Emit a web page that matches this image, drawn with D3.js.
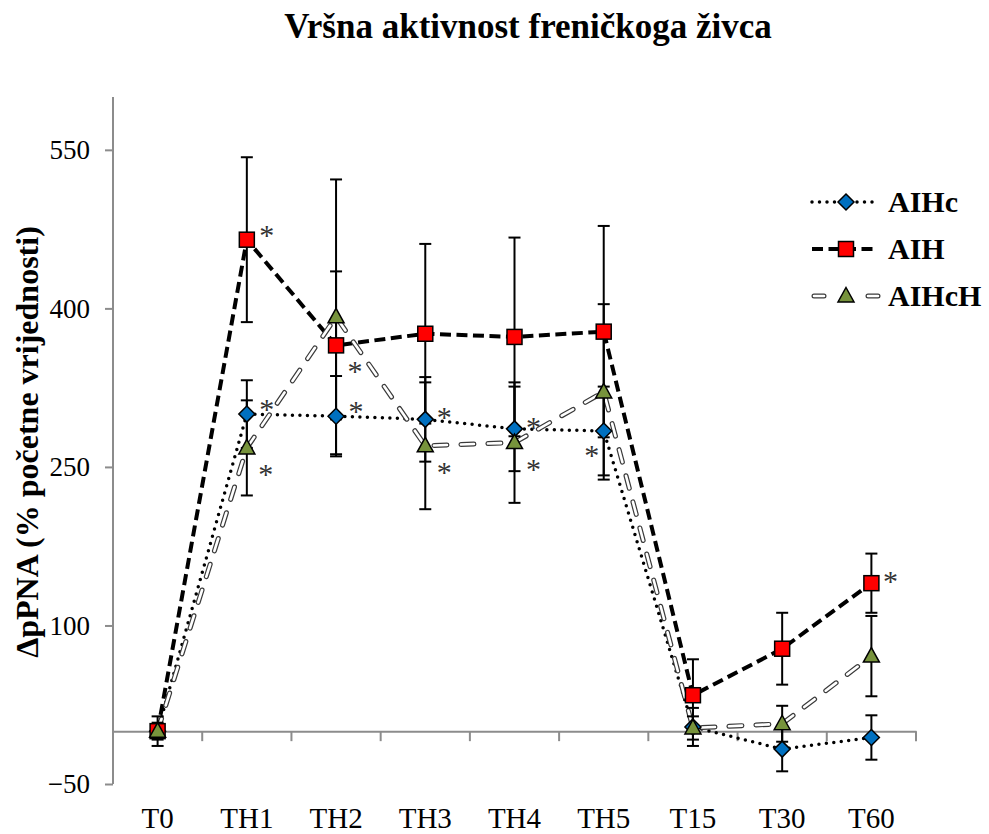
<!DOCTYPE html>
<html>
<head>
<meta charset="utf-8">
<script src="https://cdn.jsdelivr.net/npm/d3@7/dist/d3.min.js"></script>
<style>
  html, body { margin: 0; padding: 0; background: #fff; }
  svg { display: block; }
  svg text { font-family: "Liberation Serif", "Times New Roman", Times, "DejaVu Serif", serif; }
</style>
</head>
<body>
<script>
// ---------- data ----------
const categories = ["T0", "TH1", "TH2", "TH3", "TH4", "TH5", "T15", "T30", "T60"];
const yTicks = [-50, 100, 250, 400, 550];

const aihcValues  = [0, 300, 298, 295, 286, 284, 4, -17, -6];
const aihcErrors  = [14, 32, 38, 40, 40, 42, 18, 21, 21];

const aihValues   = [0, 465, 365, 376, 373, 378, 34, 78, 140];
const aihErrors   = [4, 78, 70, 85, 94, 100, 34, 34, 28];

const aihchValues = [0, 268, 392, 270, 273, 321, 3, 7, 71];
const aihchErrors = [8, 45, 130, 60, 57, 83, 11, 17, 38];

const seriesNames = ["AIHc", "AIH", "AIHcH"];

// significance marks: series, category, placement
const stars = [
  { s: "AIH",   c: "TH1", at: "upRight" },
  { s: "AIHc",  c: "TH1", at: "upRight" },
  { s: "AIHcH", c: "TH1", at: "downRight" },
  { s: "AIH",   c: "TH2", at: "downRight" },
  { s: "AIHc",  c: "TH2", at: "upRight" },
  { s: "AIHc",  c: "TH3", at: "right" },
  { s: "AIHcH", c: "TH3", at: "downRight" },
  { s: "AIHc",  c: "TH4", at: "right" },
  { s: "AIHcH", c: "TH4", at: "downRight" },
  { s: "AIHc",  c: "TH5", at: "downLeft" },
  { s: "AIH",   c: "T60", at: "right" }
];

// ---------- setup ----------
const W = 989, H = 834;
const FONT = "Liberation Serif, Times New Roman, Times, DejaVu Serif, serif";
const svg = d3.select("body").append("svg").attr("width", W).attr("height", H);

const x = d3.scaleBand().domain(categories).range([113, 916]).padding(0);
const y = d3.scaleLinear().domain([-50, 600]).range([784, 97]);
const cx = c => x(c) + x.bandwidth() / 2;

const series = [
  { name: "AIHc",  values: aihcValues,  errors: aihcErrors,  color: "#0070C0", shape: "diamond" },
  { name: "AIH",   values: aihValues,   errors: aihErrors,   color: "#FF0000", shape: "square" },
  { name: "AIHcH", values: aihchValues, errors: aihchErrors, color: "#77933C", shape: "triangle" }
];

// title
svg.append("text").attr("x", 528).attr("y", 38).attr("text-anchor", "middle")
  .attr("font-family", FONT)
  .attr("font-size", 35).attr("font-weight", "bold").text("Vršna aktivnost freničkoga živca");

// y axis
const axisColor = "#8C8C8C";
const yAxis = svg.append("g").attr("transform", "translate(113,0)")
  .call(d3.axisLeft(y).tickValues(yTicks).tickSize(8).tickPadding(15).tickFormat(d3.format("d")));
yAxis.attr("font-family", FONT);
yAxis.select(".domain").attr("stroke", axisColor).attr("stroke-width", 2).attr("d", `M0,${y(600)}V${y(-50)}`);
yAxis.selectAll(".tick line").attr("stroke", axisColor).attr("stroke-width", 2);
yAxis.selectAll(".tick text").attr("font-size", 27).attr("fill", "#000")
  .attr("font-family", FONT);

// x axis at zero
const xAxis = svg.append("g").attr("transform", `translate(0,${y(0)})`)
  .call(d3.axisBottom(x).tickSize(0).tickFormat(""));
xAxis.select(".domain").attr("stroke", axisColor).attr("stroke-width", 2);
xAxis.selectAll(".tick").remove();
const bounds = categories.map(c => x(c) + x.bandwidth());
xAxis.selectAll("line.bt").data(bounds).enter().append("line")
  .attr("x1", d => d).attr("x2", d => d).attr("y1", 0).attr("y2", 10)
  .attr("stroke", axisColor).attr("stroke-width", 2);

// x labels at bottom
svg.append("g").selectAll("text").data(categories).enter().append("text")
  .attr("x", d => cx(d)).attr("y", 828).attr("text-anchor", "middle")
  .attr("font-family", FONT)
  .attr("font-size", 29).text(d => d);

// y label
svg.append("text").attr("transform", "translate(38,442) rotate(-90)")
  .attr("text-anchor", "middle").attr("font-size", 32).attr("font-weight", "bold")
  .attr("font-family", FONT)
  .text("ΔpPNA (% početne vrijednosti)");

// ---------- lines ----------
const line = d3.line().x((d, i) => cx(categories[i])).y(d => y(d));

function drawLine(g, s, pathD) {
  if (s.name === "AIHc") {
    g.append("path").attr("d", pathD).attr("fill", "none").attr("stroke", "#000")
      .attr("stroke-width", 3.5).attr("stroke-linecap", "round").attr("stroke-dasharray", "0 7.5");
  } else if (s.name === "AIH") {
    g.append("path").attr("d", pathD).attr("fill", "none").attr("stroke", "#000")
      .attr("stroke-width", 4).attr("stroke-dasharray", "11 5.5");
  } else {
    g.append("path").attr("d", pathD).attr("fill", "none").attr("stroke", "#3a3a3a")
      .attr("stroke-width", 5).attr("stroke-linecap", "round").attr("stroke-dasharray", "13 14");
    g.append("path").attr("d", pathD).attr("fill", "none").attr("stroke", "#fff")
      .attr("stroke-width", 2.6).attr("stroke-linecap", "round").attr("stroke-dasharray", "13 14");
  }
}

const linesG = svg.append("g");
series.forEach(s => drawLine(linesG, s, line(s.values)));

// ---------- error bars ----------
const errG = svg.append("g").attr("stroke", "#000").attr("stroke-width", 2);
series.forEach(s => {
  s.values.forEach((v, i) => {
    const px = cx(categories[i]);
    const e = s.errors[i];
    errG.append("line").attr("x1", px).attr("x2", px).attr("y1", y(v - e)).attr("y2", y(v + e));
    [v - e, v + e].forEach(t => {
      errG.append("line").attr("x1", px - 6).attr("x2", px + 6).attr("y1", y(t)).attr("y2", y(t));
    });
  });
});

// ---------- markers ----------
function marker(g, shape, color, px, py) {
  if (shape === "diamond") {
    g.append("path").attr("d", `M${px},${py - 8}L${px + 8},${py}L${px},${py + 8}L${px - 8},${py}Z`)
      .attr("fill", color).attr("stroke", "#000").attr("stroke-width", 1.5);
  } else if (shape === "square") {
    g.append("rect").attr("x", px - 7.5).attr("y", py - 7.5).attr("width", 15).attr("height", 15)
      .attr("fill", color).attr("stroke", "#000").attr("stroke-width", 1.5);
  } else {
    g.append("path").attr("d", `M${px},${py - 8.5}L${px + 8},${py + 6}L${px - 8},${py + 6}Z`)
      .attr("fill", color).attr("stroke", "#000").attr("stroke-width", 1.5);
  }
}
const markG = svg.append("g");
series.forEach(s => {
  s.values.forEach((v, i) => marker(markG, s.shape, s.color, cx(categories[i]), y(v)));
});

// ---------- stars ----------
const offsets = {
  upRight:   [20, -9],
  right:     [19, -6],
  downRight: [19, 22],
  downLeft:  [-12, 20]
};
const starG = svg.append("g");
stars.forEach(st => {
  const s = series.find(d => d.name === st.s);
  const i = categories.indexOf(st.c);
  const [dx, dy] = offsets[st.at];
  const px = cx(st.c) + dx, py = y(s.values[i]) + dy;
  starG.append("text").attr("x", px).attr("y", py + 14).attr("text-anchor", "middle")
    .attr("font-family", FONT)
    .attr("font-size", 30).attr("fill", "#333").text("*");
});

// ---------- legend ----------
const legG = svg.append("g");
series.forEach((s, k) => {
  const ly = 202 + k * 47;
  const d = `M812,${ly}H876`;
  if (s.name === "AIHc") {
    legG.append("path").attr("d", d).attr("stroke", "#000").attr("stroke-width", 3.5)
      .attr("stroke-linecap", "round").attr("stroke-dasharray", "0 7.5");
  } else if (s.name === "AIH") {
    legG.append("path").attr("d", d).attr("stroke", "#000").attr("stroke-width", 4)
      .attr("stroke-dasharray", "11 5.5");
  } else {
    const segs = `M814,${ly}H824M868,${ly}H878`;
    legG.append("path").attr("d", segs).attr("stroke", "#3a3a3a").attr("stroke-width", 5).attr("stroke-linecap", "round");
    legG.append("path").attr("d", segs).attr("stroke", "#fff").attr("stroke-width", 2.6).attr("stroke-linecap", "round");
  }
  marker(legG, s.shape, s.color, 846, ly);
  legG.append("text").attr("x", 888).attr("y", ly + 10).attr("font-size", 30)
    .attr("font-family", FONT)
    .attr("font-weight", "bold").text(s.name);
});
</script>
</body>
</html>
